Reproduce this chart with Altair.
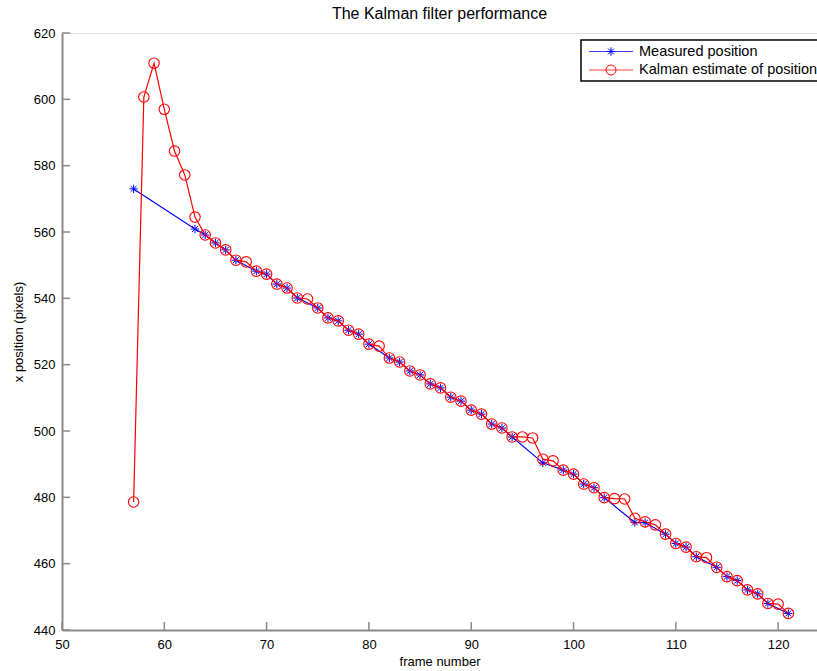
import altair as alt
import pandas as pd

# ---------------- data ----------------
frames = list(range(57, 122))
kalman = [478.6, 600.7, 610.9, 597.0, 584.4, 577.2, 564.5, 559.1, 556.7, 554.6,
          551.5, 551.0, 548.2, 547.3, 544.3, 543.1, 540.1, 539.8, 537.1, 534.1,
          533.2, 530.4, 529.2, 526.2, 525.6, 522.0, 520.8, 518.1, 516.9, 514.2,
          513.0, 510.2, 509.0, 506.3, 505.1, 502.1, 500.9, 498.2, 498.2, 497.9,
          491.5, 491.0, 488.2, 487.0, 484.0, 482.9, 479.9, 479.6, 479.5, 473.7,
          472.6, 471.7, 468.9, 466.1, 465.0, 462.1, 461.8, 458.9, 456.1, 454.9,
          452.1, 450.9, 448.0, 447.8, 445.0]

meas_frames = [57, 63, 64, 65, 66, 67, 69, 70, 71, 72, 73, 75, 76, 77, 78, 79, 80,
               82, 83, 84, 85, 86, 87, 88, 89, 90, 91, 92, 93, 94, 97, 99, 100,
               101, 102, 103, 106, 107, 109, 110, 111, 112, 114, 115, 116, 117,
               118, 119, 121]
meas_values = [573.0, 560.9, 559.1, 556.7, 554.6, 551.5, 548.2, 547.3, 544.3, 543.1,
               540.1, 537.1, 534.1, 533.2, 530.4, 529.2, 526.2, 522.0, 520.8, 518.1,
               516.9, 514.2, 513.0, 510.2, 509.0, 506.3, 505.1, 502.1, 500.9, 498.2,
               490.4, 488.2, 487.0, 484.0, 482.9, 479.9, 472.4, 472.4, 468.9, 466.1,
               465.0, 462.1, 458.9, 456.1, 454.9, 452.1, 450.9, 448.0, 445.0]

x_ticks = [50, 60, 70, 80, 90, 100, 110, 120]
y_ticks = [440, 460, 480, 500, 520, 540, 560, 580, 600, 620]

legend_labels = ["Measured position", "Kalman estimate of position"]
legend_colors = ["#0000ff", "#ff0000"]

title_text = "The Kalman filter performance"
x_title = "frame number"
y_title = "x position (pixels)"

# ---------------- layout ----------------
W, H = 755, 597
FONT = "Liberation Sans"
AXIS_GRAY = "#8a8a8a"

STAR = "M-1,0L1,0M0,-1L0,1M-0.7,-0.7L0.7,0.7M-0.7,0.7L0.7,-0.7"

kal_df = pd.DataFrame({"frame": frames, "value": kalman})
meas_df = pd.DataFrame({"frame": meas_frames, "value": meas_values})
xt_df = pd.DataFrame({"t": x_ticks})
yt_df = pd.DataFrame({"t": y_ticks})

xs = alt.Scale(domain=[50, 123.8], nice=False, zero=False)
ys = alt.Scale(domain=[440, 620], nice=False, zero=False)

X = alt.X("frame:Q", scale=xs,
          axis=alt.Axis(title=x_title, values=x_ticks, format="d", ticks=False, tickSize=0,
                        labelPadding=8, labelFontSize=13, titleFontSize=13, labelFlush=False,
                        titleFontWeight="normal", titleY=31, titleBaseline="middle",
                        domainColor=AXIS_GRAY, domainWidth=2, grid=False))
Y = alt.Y("value:Q", scale=ys,
          axis=alt.Axis(title=y_title, values=y_ticks, format="d", ticks=False, tickSize=0,
                        labelPadding=7, labelBaseline="middle", labelFontSize=13,
                        labelFlush=False, titleFontSize=13, titleFontWeight="normal",
                        titleX=-44, titleBaseline="middle", domainColor=AXIS_GRAY,
                        domainWidth=2, grid=False))

meas_line = alt.Chart(meas_df).mark_line(color="#0000ff", strokeWidth=1.2).encode(x=X, y=Y)
meas_pts = alt.Chart(meas_df).mark_point(shape=STAR, size=70, filled=False,
                                         color="#0000ff", strokeWidth=1, opacity=1).encode(x=X, y=Y)
kal_line = alt.Chart(kal_df).mark_line(color="#ff0000", strokeWidth=1.2).encode(x=X, y=Y)
kal_pts = alt.Chart(kal_df).mark_point(shape="circle", size=110, filled=False,
                                       color="#ff0000", strokeWidth=1.1, opacity=1).encode(x=X, y=Y)

# inward tick marks
xticks = alt.Chart(xt_df).mark_rule(color=AXIS_GRAY, strokeWidth=1.5).encode(
    x=alt.X("t:Q", scale=xs), y=alt.value(H), y2=alt.value(H - 8))
yticks = alt.Chart(yt_df).mark_rule(color=AXIS_GRAY, strokeWidth=1.5).encode(
    y=alt.Y("t:Q", scale=ys), x=alt.value(0), x2=alt.value(8))

# legend box (top-right)
one = pd.DataFrame({"k": [0]})
legend_layers = [
    alt.Chart(one).mark_rect(fill="white", stroke="black", strokeWidth=1.5, clip=True).encode(
        x=alt.value(519), x2=alt.value(W + 40), y=alt.value(7), y2=alt.value(48))
]
row_y = [18.5, 37]
shapes = [(STAR, 70), ("circle", 100)]
for i, (lab, col) in enumerate(zip(legend_labels, legend_colors)):
    legend_layers.append(
        alt.Chart(one).mark_rule(color=col, strokeWidth=1, opacity=0.75).encode(
            x=alt.value(527), x2=alt.value(571), y=alt.value(row_y[i])))
    legend_layers.append(
        alt.Chart(one).mark_point(shape=shapes[i][0], size=shapes[i][1], filled=False,
                                  color=col, strokeWidth=1, opacity=1).encode(
            x=alt.value(549), y=alt.value(row_y[i])))
    legend_layers.append(
        alt.Chart(one).mark_text(align="left", baseline="middle", font=FONT, fontSize=14.5,
                                 color="black").encode(
            x=alt.value(577), y=alt.value(row_y[i]), text=alt.value(lab)))

chart = alt.layer(
    xticks, yticks, meas_line, meas_pts, kal_line, kal_pts, *legend_layers
).properties(
    width=W, height=H,
    title=alt.TitleParams(title_text, fontSize=16, font=FONT, fontWeight="normal",
                          anchor="middle", offset=5, color="black"),
    autosize=alt.AutoSizeParams(type="none"),
    padding={"left": 62, "top": 33, "right": 0, "bottom": 41},
).configure_view(stroke=None).configure_axis(
    labelFont=FONT, titleFont=FONT, labelColor="black", titleColor="black"
).configure(background="white")

chart.save("out.html", embed_options={"renderer": "svg", "actions": False})
